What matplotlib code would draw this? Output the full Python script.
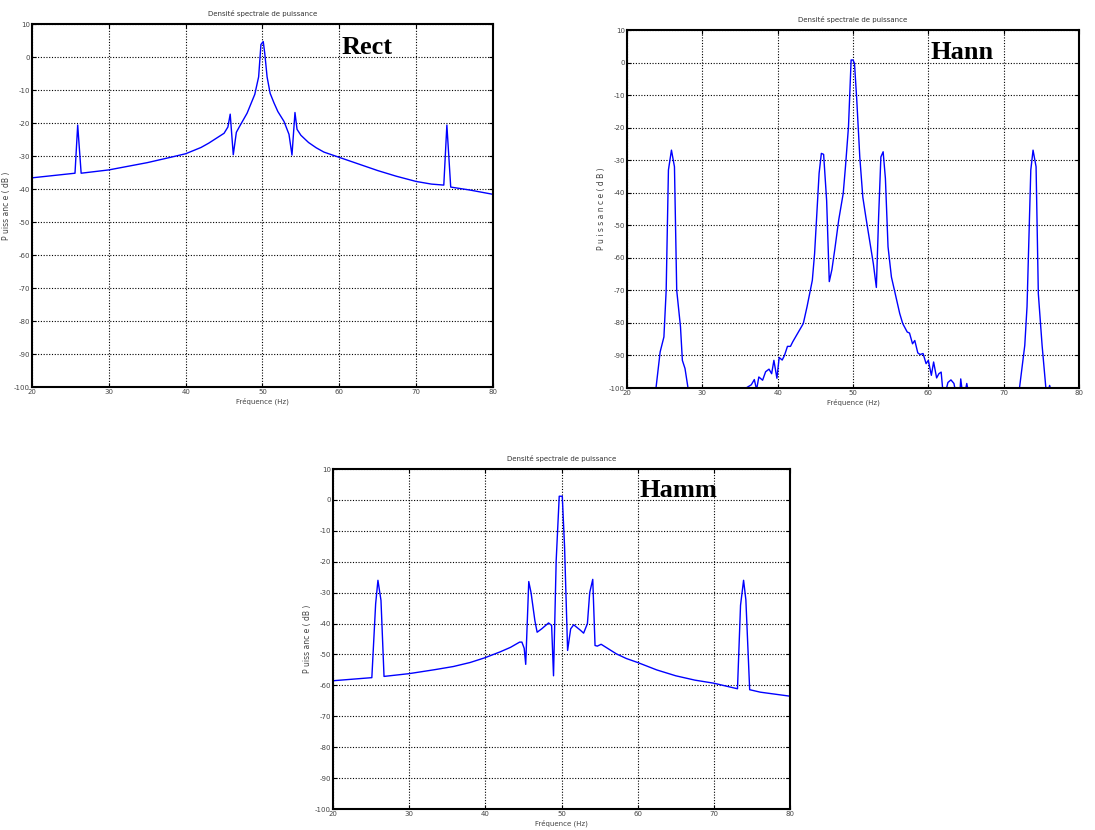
import matplotlib.pyplot as plt
import numpy as np

plt.rcParams['axes.unicode_minus'] = False

# Rectangular window spectrum
rect_f = [20, 25.6, 25.95, 26.4, 30, 35, 38, 40, 42, 43, 44, 45, 45.5, 45.8, 46.2, 46.6, 47,
          48, 49, 49.5, 49.8, 50.1, 50.3, 50.6, 51, 51.5, 52, 52.8, 53.45, 53.84, 54.23, 54.5,
          55, 56, 57, 58, 60, 62, 65, 67.4, 70, 72, 73.6, 74.0, 74.5, 77, 80]
rect_db = [-36.6, -35.2, -20.6, -35.2, -34.2, -32.0, -30.4, -29.3, -27.4, -26.1, -24.6, -23.1,
           -21.2, -17.3, -29.6, -22.8, -21.1, -17.0, -11.3, -6.0, 3.8, 4.7, 1.1, -6.0, -11.0,
           -13.9, -16.5, -19.5, -23.4, -29.7, -16.8, -21.9, -23.7, -25.9, -27.5, -28.8, -30.4,
           -32.0, -34.4, -36.1, -37.7, -38.5, -38.8, -20.6, -39.4, -40.3, -41.6]

# Hann window spectrum
hann_f = [23.7, 24.4, 24.9, 25.2, 25.5, 25.9, 26.3, 26.6, 27.1, 27.35, 27.7, 28.1, 28.3,
          35.6, 35.8, 36.5, 36.9, 37.2, 37.5, 38.0, 38.4, 38.85, 39.2, 39.5, 39.9, 40.2, 40.6,
          40.9, 41.3, 41.7, 42.0, 42.9, 43.4, 43.9, 44.6, 44.9, 45.2, 45.5, 45.8, 46.1, 46.5,
          46.85, 47.2, 47.6, 48.1, 48.7, 49.0, 49.4, 49.75, 50.0, 50.2, 50.5, 50.9, 51.3, 51.7,
          52.2, 52.7, 53.1, 53.4, 53.7, 54.0, 54.3, 54.65, 55.1, 55.7, 56.2, 56.6, 57.2, 57.5,
          57.9, 58.2, 58.6, 58.9, 59.3, 59.7, 60.0, 60.4, 60.7, 61.1, 61.4, 61.7, 61.9, 62.1,
          62.6, 63.0, 63.4, 63.6, 64.2, 64.3, 64.5, 64.9, 65.1, 65.3,
          71.9, 72.1, 72.8, 73.1, 73.6, 73.9, 74.3, 74.6, 75.1, 75.6, 75.9, 76.1, 76.3]
hann_db = [-103, -88.9, -84.3, -70, -33, -26.9, -32, -70, -81.2, -91.5, -94, -100, -103,
           -103, -100, -99, -97.4, -100.5, -96.6, -97.6, -95, -94.2, -95.6, -91.5, -97, -90.6,
           -91.4, -90, -87.2, -87.2, -85.8, -82.2, -80.2, -75, -66.9, -58.7, -46.4, -34, -27.9,
           -28.2, -42.4, -67.3, -63.6, -57.1, -48.4, -40.2, -32, -19.7, 0.8, 0.8, -0.3, -11.5,
           -29, -41.3, -47.4, -54.6, -61.8, -69.1, -47.4, -29, -27.4, -35.6, -56.6, -65.9, -72,
           -77.1, -80.2, -82.8, -83.1, -86.4, -85.4, -89.2, -89.7, -89.4, -92.5, -91.5, -96.1,
           -92, -96.9, -95.6, -95.1, -100.2, -103,
           -98.3, -97.5, -98.6, -101, -101, -97.2, -101, -101, -98.6, -101,
           -103, -100, -86.9, -75, -33, -26.9, -32, -71, -86.9, -100, -101, -99.2, -101]

# Hamming window spectrum
hamm_f = [20, 25.1, 25.6, 25.9, 26.3, 26.7, 30, 33.4, 35.8, 38, 39.9, 41.9, 43.3, 44.5, 44.8,
          45.1, 45.3, 45.7, 46.0, 46.5, 46.8, 47.4, 48.3, 48.7, 48.95, 49.3, 49.7, 50.1, 50.4,
          50.8, 51.2, 51.6, 52.5, 52.9, 53.4, 53.7, 54.1, 54.4, 54.7, 55.2, 57.2, 58.5, 60,
          62.5, 65, 67.5, 70, 73.1, 73.5, 73.9, 74.2, 74.7, 76.1, 80]
hamm_db = [-58.5, -57.5, -33.6, -26.0, -32.5, -57.1, -56.2, -54.9, -53.9, -52.6, -51.1, -49.2,
           -47.7, -46.0, -46.0, -48.0, -53.2, -26.4, -30.0, -39.0, -42.8, -41.7, -39.8, -40.6,
           -56.9, -19.6, 1.2, 1.2, -15.2, -48.7, -41.7, -40.4, -42.2, -43.1, -40.0, -30.0,
           -25.7, -47.1, -47.3, -46.7, -49.8, -51.3, -52.6, -55.0, -56.9, -58.3, -59.3, -61.1,
           -34.1, -26.0, -32.3, -61.4, -62.2, -63.5]

fig = plt.figure(figsize=(10.95, 8.3), dpi=100)

def panel(rect, f, db, label, ylabel):
    ax = fig.add_axes(rect)
    ax.plot(f, db, color='#0000ff', lw=1.0)
    ax.set_xlim(20, 80)
    ax.set_ylim(-100, 10)
    ax.set_xticks(range(20, 81, 10))
    ax.set_yticks(range(-100, 11, 10))
    ax.grid(True, color='black', linestyle=(0, (1, 1.5)), lw=0.8)
    ax.tick_params(direction='in', length=3, labelsize=5, colors='black',
                   labelcolor='#444444', top=True, right=True, pad=1.5)
    for s in ax.spines.values():
        s.set_linewidth(1.5)
    ax.set_title('Densité spectrale de puissance', fontsize=5, color='#333333', pad=6)
    ax.set_xlabel('Fréquence (Hz)', fontsize=5, color='#444444', labelpad=2)
    ax.set_ylabel(ylabel, fontsize=5.5, color='#444444', labelpad=2)
    ax.text(60.3, 1.0, label, fontsize=19, fontweight='bold',
            family='Liberation Serif', va='baseline', ha='left')
    return ax

panel([0.0292, 0.5337, 0.421, 0.4373], rect_f, rect_db, 'Rect', 'P uiss anc e ( dB )')
panel([0.5726, 0.5325, 0.4128, 0.4313], hann_f, hann_db, 'Hann', 'P u i s s a n c e ( d B )')
panel([0.3041, 0.0253, 0.4174, 0.4096], hamm_f, hamm_db, 'Hamm', 'P uiss anc e ( dB )')

fig.savefig('out.png', dpi=100)
